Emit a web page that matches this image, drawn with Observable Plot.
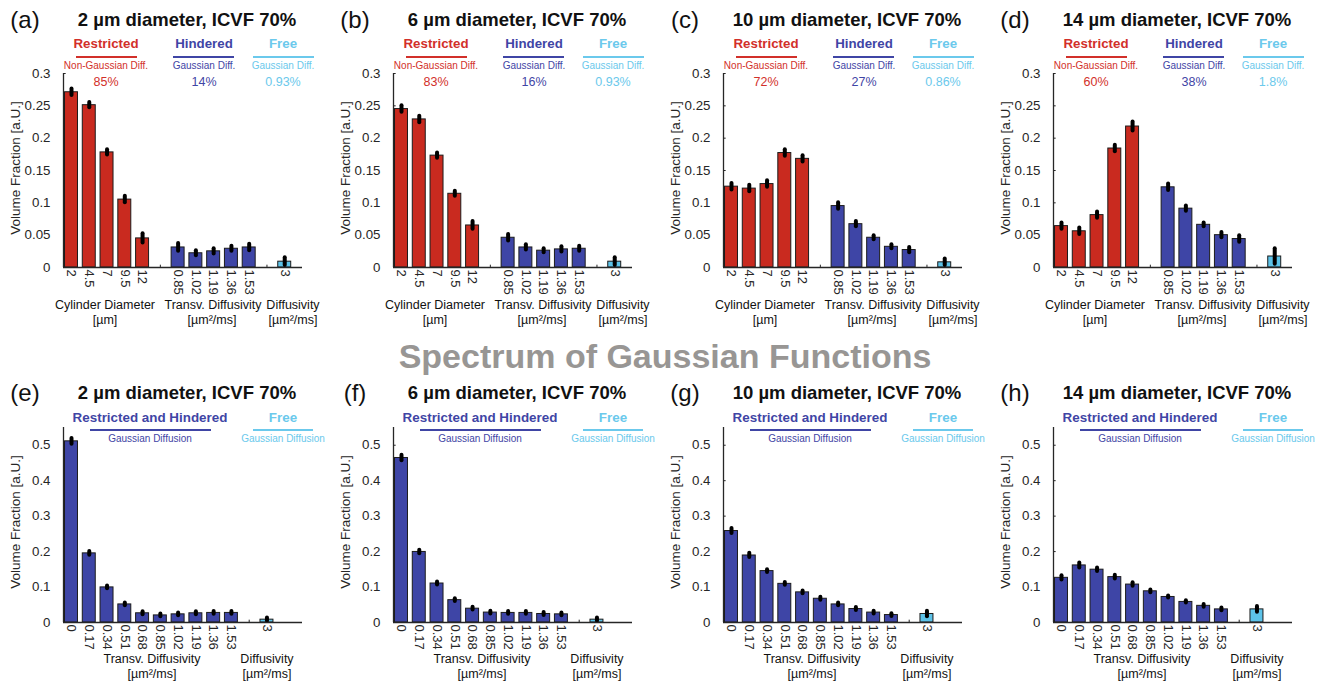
<!DOCTYPE html>
<html><head><meta charset="utf-8">
<script src="https://cdn.jsdelivr.net/npm/d3@7"></script>
<script src="https://cdn.jsdelivr.net/npm/@observablehq/plot@0.6"></script>
<style>
body{margin:0;background:#fff;font-family:"Liberation Sans",Arial,Helvetica,sans-serif;}
#root{position:relative;width:1317px;height:681px;overflow:hidden;background:#fff;}
.abs{position:absolute;white-space:nowrap;line-height:1;}
.c{transform:translate(-50%,-50%);}
.panel{position:absolute;width:330px;height:345px;}
.panel svg{position:absolute;left:0;top:0;overflow:visible;}
</style></head><body><div id="root"></div>
<script>
// ---------------- DATA ----------------
const topLetters = ["(a)", "(b)", "(c)", "(d)"];
const bottomLetters = ["(e)", "(f)", "(g)", "(h)"];
const titles = ["2 µm diameter, ICVF 70%", "6 µm diameter, ICVF 70%", "10 µm diameter, ICVF 70%", "14 µm diameter, ICVF 70%"];
const sectionTitle = "Spectrum of Gaussian Functions";

const restrictedLabels = ["2", "4.5", "7", "9.5", "12"];
const hinderedLabels = ["0.85", "1.02", "1.19", "1.36", "1.53"];
const freeLabels = ["3"];
const gaussLabels = ["0", "0.17", "0.34", "0.51", "0.68", "0.85", "1.02", "1.19", "1.36", "1.53"];

const restrictedPct = ["85%", "83%", "72%", "60%"];
const hinderedPct = ["14%", "16%", "27%", "38%"];
const freePct = ["0.93%", "0.93%", "0.86%", "1.8%"];

// Top row: cylinders + hindered + free
const restrictedVals = [
  [0.271, 0.251, 0.178, 0.105, 0.045],
  [0.245, 0.229, 0.173, 0.114, 0.065],
  [0.125, 0.122, 0.129, 0.177, 0.168],
  [0.064, 0.056, 0.081, 0.184, 0.218]
];
const restrictedErr = [
  [0.005, 0.004, 0.004, 0.005, 0.007],
  [0.005, 0.005, 0.004, 0.004, 0.006],
  [0.005, 0.005, 0.005, 0.005, 0.005],
  [0.005, 0.005, 0.005, 0.005, 0.007]
];
const hinderedVals = [
  [0.031, 0.022, 0.025, 0.029, 0.031],
  [0.046, 0.031, 0.026, 0.028, 0.029],
  [0.095, 0.067, 0.046, 0.032, 0.027],
  [0.124, 0.091, 0.066, 0.050, 0.044]
];
const hinderedErr = [
  [0.006, 0.004, 0.004, 0.004, 0.005],
  [0.005, 0.004, 0.003, 0.004, 0.004],
  [0.005, 0.004, 0.003, 0.003, 0.004],
  [0.005, 0.004, 0.003, 0.004, 0.005]
];
const freeValsTop = [0.009, 0.009, 0.008, 0.017];
const freeErrTop = [0.006, 0.006, 0.005, 0.012];

// Bottom row: spectrum of Gaussian functions
const gaussVals = [
  [0.511, 0.195, 0.099, 0.051, 0.026, 0.020, 0.023, 0.026, 0.027, 0.027],
  [0.464, 0.199, 0.110, 0.063, 0.039, 0.028, 0.027, 0.027, 0.024, 0.023],
  [0.258, 0.189, 0.145, 0.109, 0.085, 0.067, 0.051, 0.038, 0.028, 0.021],
  [0.126, 0.161, 0.149, 0.128, 0.107, 0.088, 0.072, 0.058, 0.047, 0.037]
];
const gaussErr = [
  [0.008, 0.005, 0.004, 0.004, 0.004, 0.004, 0.004, 0.004, 0.004, 0.004],
  [0.008, 0.005, 0.004, 0.004, 0.004, 0.004, 0.004, 0.004, 0.004, 0.004],
  [0.007, 0.006, 0.004, 0.004, 0.004, 0.004, 0.004, 0.004, 0.004, 0.004],
  [0.006, 0.007, 0.005, 0.005, 0.005, 0.004, 0.003, 0.003, 0.004, 0.004]
];
const freeValsBottom = [0.008, 0.008, 0.024, 0.037];
const freeErrBottom = [0.005, 0.005, 0.008, 0.008];

const topYTicks = [0, 0.05, 0.1, 0.15, 0.2, 0.25, 0.3];
const bottomYTicks = [0, 0.1, 0.2, 0.3, 0.4, 0.5];

// ---------------- STYLE ----------------
const FONT = '"Liberation Sans", Arial, Helvetica, sans-serif';
const fillColors = {restricted: "#C92A1F", hindered: "#3E45A6", free: "#5DC3E9"};
const textColors = {restricted: "#D2302A", hindered: "#3F45A5", free: "#6BC9EC"};
const AXIS = "#262626";
const panelX = [0, 330, 660, 990];

const root = document.getElementById("root");
function addText(parent, txt, x, y, css) {
  const d = document.createElement("div");
  d.className = "abs c";
  d.textContent = txt;
  d.style.left = x + "px";
  d.style.top = y + "px";
  Object.assign(d.style, css || {});
  parent.appendChild(d);
  return d;
}
function addLine(parent, x1, x2, y, color) {
  const d = document.createElement("div");
  d.className = "abs";
  Object.assign(d.style, {left: x1 + "px", top: (y - 1) + "px", width: (x2 - x1) + "px", height: "2px", background: color});
  parent.appendChild(d);
}

function chart(rows, allSlots, yMax, yTicks, height, mt, mb) {
  const xMin = -0.45, xMax = 13;
  const labelOf = new Map(rows.map(d => [d.slot, d.label]));
  return Plot.plot({
    width: 330, height, marginLeft: 63, marginRight: 28, marginTop: mt, marginBottom: mb,
    style: {fontFamily: FONT, fontSize: "13px", color: AXIS, background: "transparent", overflow: "visible"},
    x: {type: "linear", domain: [xMin, xMax], axis: null},
    y: {domain: [0, yMax], axis: null},
    marks: [
      Plot.ruleX(allSlots, {x: d => d, y1: 0, y2: yMax * 0.012, stroke: AXIS, strokeWidth: 1}),
      Plot.ruleY(yTicks, {y: d => d, x1: xMin, x2: xMin + 0.15, stroke: AXIS, strokeWidth: 1}),
      Plot.rectY(rows, {x1: d => d.slot - 0.365, x2: d => d.slot + 0.365, y1: 0, y2: "value",
        fill: d => fillColors[d.group], stroke: "#1c1c1c", strokeWidth: 1}),
      Plot.ruleX(rows, {x: "slot", y1: d => d.value - d.err, y2: d => d.value + d.err,
        stroke: "#000", strokeWidth: 4, strokeLinecap: "round"}),
      Plot.ruleY([0], {x1: xMin, x2: xMax, stroke: AXIS, strokeWidth: 1.3}),
      Plot.ruleX([xMin], {y1: 0, y2: yMax, stroke: AXIS, strokeWidth: 1.3}),
      Plot.axisY({ticks: yTicks, tickSize: 0, tickPadding: 13, tickFormat: d => String(d), label: null, fontSize: 13.3}),
      Plot.axisX({ticks: rows.map(d => d.slot), tickFormat: s => labelOf.get(s), tickRotate: 90,
        tickSize: 0, tickPadding: 2, label: null, fontSize: 13})
    ]
  });
}

const groupLabelCss = {fontSize: "12.5px", color: "#111"};

// ---------------- TOP ROW ----------------
for (let p = 0; p < 4; p++) {
  const panel = document.createElement("div");
  panel.className = "panel";
  panel.style.left = panelX[p] + "px";
  panel.style.top = "0px";
  root.appendChild(panel);

  const rows = [];
  restrictedLabels.forEach((l, i) => rows.push({slot: i, label: l, value: restrictedVals[p][i], err: restrictedErr[p][i], group: "restricted"}));
  hinderedLabels.forEach((l, i) => rows.push({slot: 6 + i, label: l, value: hinderedVals[p][i], err: hinderedErr[p][i], group: "hindered"}));
  freeLabels.forEach((l, i) => rows.push({slot: 12 + i, label: l, value: freeValsTop[p], err: freeErrTop[p], group: "free"}));
  const allSlots = d3.range(0, 13);
  panel.appendChild(chart(rows, allSlots, 0.3, topYTicks, 300, 73, 33));

  addText(panel, topLetters[p], 25, 20, {fontSize: "24px", color: "#111"});
  addText(panel, titles[p], 187, 20, {fontSize: "18.5px", fontWeight: "bold", color: "#111"});

  const heads = [
    ["restricted", "Restricted", "Non-Gaussian Diff.", restrictedPct[p], 106, 76, 137],
    ["hindered", "Hindered", "Gaussian Diff.", hinderedPct[p], 204, 173, 234],
    ["free", "Free", "Gaussian Diff.", freePct[p], 283, 253, 314]
  ];
  for (const [g, name, sub, pct, cx, l1, l2] of heads) {
    addText(panel, name, cx, 44, {fontSize: "13.3px", fontWeight: "bold", color: textColors[g]});
    addLine(panel, l1, l2, 57, textColors[g]);
    addText(panel, sub, cx, 66, {fontSize: "10px", color: textColors[g]});
    addText(panel, pct, cx, 82, {fontSize: "12.5px", color: textColors[g]});
  }
  addText(panel, "Volume Fraction [a.U.]", 16, 168, {fontSize: "13.5px", color: AXIS, transform: "translate(-50%,-50%) rotate(-90deg)"});
  addText(panel, "Cylinder Diameter", 105, 305, groupLabelCss);
  addText(panel, "[µm]", 105, 320, groupLabelCss);
  addText(panel, "Transv. Diffusivity", 213, 305, groupLabelCss);
  addText(panel, "[µm²/ms]", 212, 320, groupLabelCss);
  addText(panel, "Diffusivity", 293, 305, groupLabelCss);
  addText(panel, "[µm²/ms]", 293, 320, groupLabelCss);
}

// ---------------- SECTION TITLE ----------------
addText(root, sectionTitle, 665, 356, {fontSize: "34px", fontWeight: "bold", color: "#989694"});

// ---------------- BOTTOM ROW ----------------
for (let p = 0; p < 4; p++) {
  const panel = document.createElement("div");
  panel.className = "panel";
  panel.style.left = panelX[p] + "px";
  panel.style.top = "330px";
  root.appendChild(panel);

  const rows = [];
  gaussLabels.forEach((l, i) => rows.push({slot: i, label: l, value: gaussVals[p][i], err: gaussErr[p][i], group: "hindered"}));
  freeLabels.forEach((l, i) => rows.push({slot: 11 + i, label: l, value: freeValsBottom[p], err: freeErrBottom[p], group: "free"}));
  const allSlots = d3.range(0, 12);
  panel.appendChild(chart(rows, allSlots, 0.55, bottomYTicks, 325, 97, 33));

  addText(panel, bottomLetters[p], 25, 63, {fontSize: "24px", color: "#111"});
  addText(panel, titles[p], 187, 63, {fontSize: "18.5px", fontWeight: "bold", color: "#111"});

  addText(panel, "Restricted and Hindered", 150, 88, {fontSize: "13.4px", fontWeight: "bold", color: textColors.hindered});
  addLine(panel, 90, 211, 100, textColors.hindered);
  addText(panel, "Gaussian Diffusion", 150, 109, {fontSize: "10px", color: textColors.hindered});
  addText(panel, "Free", 283, 88, {fontSize: "13.4px", fontWeight: "bold", color: textColors.free});
  addLine(panel, 253, 313, 100, textColors.free);
  addText(panel, "Gaussian Diffusion", 283, 109, {fontSize: "10px", color: textColors.free});

  addText(panel, "Volume Fraction [a.U.]", 16, 192, {fontSize: "13.5px", color: AXIS, transform: "translate(-50%,-50%) rotate(-90deg)"});
  addText(panel, "Transv. Diffusivity", 152, 329, groupLabelCss);
  addText(panel, "[µm²/ms]", 152, 344, groupLabelCss);
  addText(panel, "Diffusivity", 267, 329, groupLabelCss);
  addText(panel, "[µm²/ms]", 267, 344, groupLabelCss);
}
</script></body></html>
